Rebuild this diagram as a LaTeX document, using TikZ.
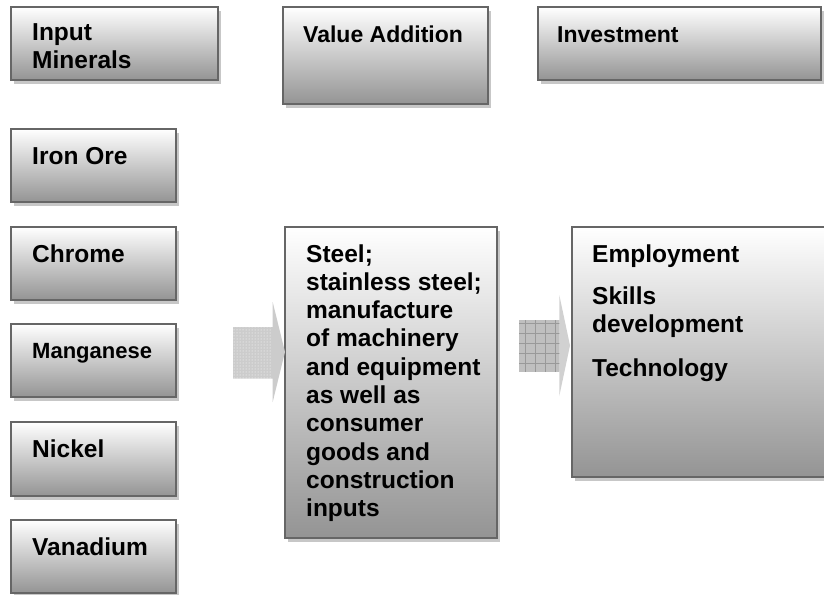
\documentclass[tikz,border=0pt]{standalone}
\usepackage{fontspec}
\setmainfont{Liberation Sans}
\usetikzlibrary{shadows,patterns,calc}
\tikzset{
  box/.style={draw=black!60, line width=1.6pt, top color=white, bottom color=black!42,
    inner sep=0pt, outer sep=0pt, anchor=north west,
    general shadow={fill=black!22, shadow xshift=3pt, shadow yshift=-4pt}},
  lbl/.style={anchor=base west, align=left, inner sep=0pt, text=black,
    font=\fontsize{24.5}{28.3}\selectfont\bfseries},
  lblsm/.style={lbl, font=\fontsize{23}{27}\selectfont\bfseries},
  lblxs/.style={lbl, font=\fontsize{22}{26}\selectfont\bfseries},
  blockarrow/.style={fill=black!20, draw=none},
}
\begin{document}
\begin{tikzpicture}[x=1pt,y=-1pt]
\useasboundingbox (0,0) rectangle (824,594);
\clip (0,0) rectangle (824,594);
% top row
\node[box, minimum width=207pt, minimum height=73pt] (im) at (11,7) {};
\node[box, minimum width=205pt, minimum height=97pt] (va) at (283,7) {};
\node[box, minimum width=283pt, minimum height=73pt] (inv) at (538,7) {};
% multi-line labels: base anchor is the baseline of the last line
\node[lbl] (imt) at ([shift={(21pt,-61.3pt)}]im.north west) {Input\\Minerals};
\node[lblsm] (vat) at ([shift={(20pt,-35.5pt)}]va.north west) {Value Addition};
\node[lblsm] (invt) at ([shift={(19pt,-35.5pt)}]inv.north west) {Investment};
% minerals column
\node[box, minimum width=165pt, minimum height=73pt] (iron) at (11,129) {};
\node[box, minimum width=165pt, minimum height=73pt] (chrome) at (11,227) {};
\node[box, minimum width=165pt, minimum height=73pt] (mang) at (11,324) {};
\node[box, minimum width=165pt, minimum height=74pt] (nickel) at (11,422) {};
\node[box, minimum width=165pt, minimum height=73pt] (vana) at (11,520) {};
\node[lbl] (iront) at ([shift={(21pt,-35pt)}]iron.north west) {Iron Ore};
\node[lbl] (chromet) at ([shift={(21pt,-35pt)}]chrome.north west) {Chrome};
\node[lblxs] (mangt) at ([shift={(21pt,-34pt)}]mang.north west) {Manganese};
\node[lbl] (nickelt) at ([shift={(21pt,-35pt)}]nickel.north west) {Nickel};
\node[lbl] (vanat) at ([shift={(21pt,-35pt)}]vana.north west) {Vanadium};
% middle and right boxes
\node[box, minimum width=212pt, minimum height=311pt] (mid) at (285,227) {};
\node[box, minimum width=258pt, minimum height=250pt] (rt) at (572,227) {};
\node[lbl] (midt) at ([shift={(21pt,-289.7pt)}]mid.north west)
  {Steel;\\stainless steel;\\manufacture\\of machinery\\and equipment\\as well as\\consumer\\goods and\\construction\\inputs};
\node[lbl] (rtt) at ([shift={(20pt,-149.5pt)}]rt.north west)
  {Employment\\[14pt]Skills\\development\\[15.5pt]Technology};
% block arrow 1 (minerals -> value addition)
\coordinate (a1tip) at (mid.west |- rt.center);
\fill[blockarrow] ($(a1tip)+(-52,-25)$) -- ($(a1tip)+(-12.3,-25)$) -- ($(a1tip)+(-12.3,-50)$)
  -- (a1tip) -- ($(a1tip)+(-12.3,50)$) -- ($(a1tip)+(-12.3,26.6)$) -- ($(a1tip)+(-52,26.6)$) -- cycle;
\fill[pattern=dots, pattern color=white] ($(a1tip)+(-52,-25)$) rectangle ($(a1tip)+(-12.3,26.6)$);
% block arrow 2 (value addition -> investment)
\coordinate (a2tip) at ($(rt.west)+(-2,-6.5)$);
\fill[blockarrow, fill=black!18] ($(a2tip)+(-51,-25.5)$) -- ($(a2tip)+(-10.7,-25.5)$) -- ($(a2tip)+(-10.7,-50.5)$)
  -- (a2tip) -- ($(a2tip)+(-10.7,50.5)$) -- ($(a2tip)+(-10.7,26.2)$) -- ($(a2tip)+(-51,26.2)$) -- cycle;
\begin{scope}
  \clip ($(a2tip)+(-51,-25.5)$) rectangle ($(a2tip)+(-10.7,26.2)$);
  \fill[black!25] ($(a2tip)+(-51,-25.5)$) rectangle ($(a2tip)+(-10.7,26.2)$);
  \draw[black!40, line width=0.8pt, step=10.1pt] ($(a2tip)+(-61.1,-35.6)$) grid ($(a2tip)+(0,36.3)$);
\end{scope}
\end{tikzpicture}
\end{document}
